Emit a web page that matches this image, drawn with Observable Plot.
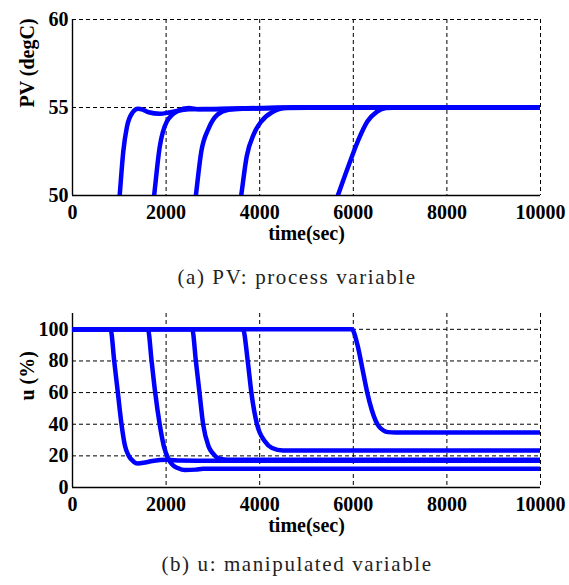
<!DOCTYPE html>
<html>
<head>
<meta charset="utf-8">
<script src="https://cdn.jsdelivr.net/npm/d3@7"></script>
<script src="https://cdn.jsdelivr.net/npm/@observablehq/plot@0.6"></script>
<style>
  html, body { margin: 0; padding: 0; background: #fff; }
  #wrap { position: relative; width: 569px; height: 585px; overflow: hidden; background: #fff; }
  .plot { position: absolute; left: 0; }
  .cap { position: absolute; left: 0; width: 594px; text-align: center;
         font-family: "Liberation Serif", serif; font-size: 21px; letter-spacing: 1.6px; color: #222; white-space: nowrap; }
</style>
</head>
<body>
<div id="wrap"></div>
<script>
// ---- data (time in sec) ----
const xTicks = [0, 2000, 4000, 6000, 8000, 10000];
const pvTicks = [50, 55, 60];
const uTicks = [0, 20, 40, 60, 80, 100];
const pvGrid = [55, 60];
const uGrid = [20, 40, 60, 80, 100];

// PV: process variable (degC), five runs
const pvRun1 = [[940,47.8],[1008,50],[1085,52.5],[1163,53.9],[1279,54.7],[1400,54.93],[1500,54.88],[1628,54.73],[1860,54.64],[2093,54.73],[2481,54.9],[3000,54.92],[4000,54.97],[5000,55],[10000,55]];
const pvRun2 = [[1650,47.8],[1744,50],[1860,52.7],[2016,54.2],[2248,54.8],[2480,54.97],[2700,54.9],[3500,54.93],[5000,55],[10000,55]];
const pvRun3 = [[2540,47.9],[2636,50],[2752,52.5],[2907,53.8],[3101,54.6],[3333,54.87],[3700,54.93],[5000,55],[10000,55]];
const pvRun4 = [[3500,48],[3605,50],[3721,52.2],[3876,53.5],[4031,54.2],[4264,54.73],[4574,54.97],[5500,55],[10000,55]];
const pvRun5 = [[5400,48],[5670,50],[5900,51.7],[6100,53.1],[6300,54.2],[6500,54.75],[6700,54.97],[7000,55],[10000,55]];

// u: manipulated variable (%), five runs
const uRun1 = [[0,100],[814,100],[891,80],[969,60],[1047,40],[1124,26],[1202,20],[1300,16.5],[1395,15.2],[1550,15.8],[1705,16.7],[2016,17.5],[2300,17.1],[3000,16.9],[10000,16.9]];
const uRun2 = [[0,100],[1612,100],[1690,80],[1767,60],[1860,40.5],[1953,26],[2054,17.7],[2150,14],[2248,12.3],[2403,11],[2636,11.3],[2791,11.8],[10000,11.8]];
const uRun3 = [[0,100],[2558,100],[2636,80],[2713,60],[2791,40],[2907,26],[3000,21.5],[3101,18.7],[3295,17.5],[10000,17.5]];
const uRun4 = [[0,100],[3643,100],[3744,80],[3822,60],[3938,40.5],[4109,29.2],[4264,25],[4496,23.4],[10000,23.4]];
const uRun5 = [[0,100],[5969,100],[6085,90.6],[6202,74],[6295,60.4],[6395,49],[6550,38.5],[6744,35],[6900,34.7],[10000,34.7]];

const pvRuns = [pvRun1, pvRun2, pvRun3, pvRun4, pvRun5];
const uRuns = [uRun1, uRun2, uRun3, uRun4, uRun5];

const toRows = runs => runs.flatMap((r, i) => r.map(([t, v]) => ({t, v, run: i})));

const blue = "#0000ff";
const dash = "4,3";
const style = {fontFamily: "'Liberation Serif', 'Times New Roman', serif", fontSize: "20px", fontWeight: "bold", color: "black", background: "white", overflow: "visible"};

function makePlot({runs, yDomain, yTicks, hGrid, label, top, mTop, mBottom}) {
  const rows = toRows(runs);
  const p = Plot.plot({
    width: 569, height: 250,
    marginLeft: 72, marginRight: 29, marginTop: mTop, marginBottom: mBottom,
    style,
    x: {domain: [0, 10000], ticks: xTicks, tickFormat: d => String(d), tickSize: 0, tickPadding: 9, label: null},
    y: {domain: yDomain, ticks: yTicks, tickFormat: d => String(d), tickSize: 0, tickPadding: 4, label: null},
    marks: [
      Plot.ruleX(xTicks.slice(1), {stroke: "black", strokeWidth: 1, strokeDasharray: dash}),
      Plot.ruleY(hGrid, {stroke: "black", strokeWidth: 1, strokeDasharray: dash}),
      Plot.ruleX([0], {stroke: "black", strokeWidth: 1.4}),
      Plot.ruleY([yDomain[0]], {stroke: "black", strokeWidth: 1.4}),
      Plot.line(rows, {x: "t", y: "v", z: "run", stroke: blue, strokeWidth: 4.5, curve: "monotone-x", clip: true}),
      Plot.text(["time(sec)"], {frameAnchor: "bottom", dy: 38, lineAnchor: "middle", fontSize: 20, fontWeight: "bold"}),
      Plot.text([label], {frameAnchor: "left", dx: -45, rotate: -90, lineAnchor: "middle", fontSize: 20, fontWeight: "bold"})
    ]
  });
  p.classList.add("plot");
  p.style.top = top + "px";
  return p;
}

const wrap = document.getElementById("wrap");
wrap.appendChild(makePlot({runs: pvRuns, yDomain: [50, 60], yTicks: pvTicks, hGrid: pvGrid, label: "PV (degC)", top: 0, mTop: 19, mBottom: 55}));
wrap.appendChild(makePlot({runs: uRuns, yDomain: [0, 110], yTicks: uTicks, hGrid: uGrid, label: "u (%)", top: 290, mTop: 23, mBottom: 53}));

const capA = document.createElement("div");
capA.className = "cap"; capA.style.top = "265px"; capA.textContent = "(a) PV: process variable";
const capB = document.createElement("div");
capB.className = "cap"; capB.style.top = "552px"; capB.textContent = "(b) u: manipulated variable";
wrap.appendChild(capA); wrap.appendChild(capB);
</script>
</body>
</html>
